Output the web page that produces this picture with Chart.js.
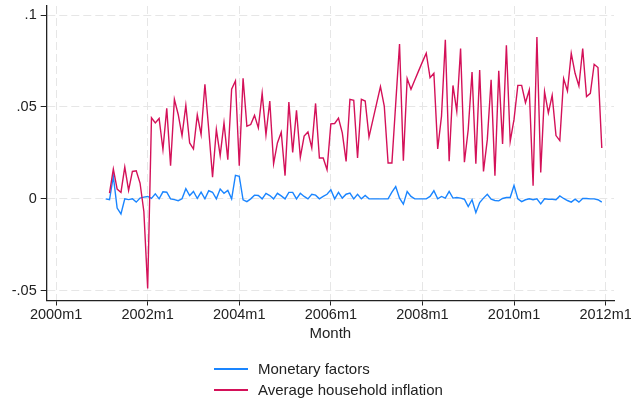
<!DOCTYPE html>
<html>
<head>
<meta charset="utf-8">
<script src="https://cdn.jsdelivr.net/npm/chart.js@4.4.1/dist/chart.umd.min.js"></script>
<style>
    html, body { margin: 0; padding: 0; background: #fff; }
    #wrap { position: relative; width: 631px; height: 398px; }
    #legend { position: absolute; left: 214px; top: 358px; font: 15px "Liberation Sans", Arial, sans-serif; color: #222; }
    .item { display: flex; align-items: center; height: 21px; }
    .swatch { display: inline-block; width: 34px; height: 2px; margin-right: 10px; }
</style>
</head>
<body>
<div id="wrap">
    <canvas id="chart" width="631" height="398"></canvas>
    <div id="legend"></div>
</div>
<script>
// months counted from 2000m1 = 0; series start at 2001m2
const startMonth = 13;

const xTickValues = [0, 24, 48, 72, 96, 120, 144];
const xTickLabels = ["2000m1", "2002m1", "2004m1", "2006m1", "2008m1", "2010m1", "2012m1"];
const yTickValues = [0.1, 0.05, 0, -0.05];
const yTickLabels = [".1", ".05", "0", "-.05"];

const seriesNames = ["Monetary factors", "Average household inflation"];
const seriesColors = ["#1a85ff", "#d41159"];

const monetaryFactors = [
    0, -0.0005, 0.0122, -0.0050, -0.0082, 0, -0.0004, 0, -0.0018, 0.0004, 0.0009,
    0.0013, 0.0002, 0.0027, 0, 0.0038, 0.0036, 0, -0.0004, -0.0010, 0, 0.0055, 0.0018,
    0.0040, 0.0002, 0.0036, 0, 0.0044, 0.0036, 0, 0.0053, 0.0030, 0.0046, 0, 0.0128,
    0.0122, -0.0005, -0.0015, 0, 0.0020, 0.0018, 0, 0.0030, 0.0018, 0, 0.0030, 0.0016,
    0, 0.0035, 0.0035, 0, 0.0030, 0.0013, 0, 0.0025, 0.0020, 0, 0.0013, 0.0025,
    0.0049, 0, 0.0035, 0.0004, 0.0025, 0.0031, 0, 0.0025, 0, 0.0018, 0, 0,
    0, 0, 0, 0, 0.0036, 0.0067, 0.0004, -0.0029, 0.0040, 0.0013,
    0, 0, 0, 0, 0.0013, 0.0044, 0, 0.0013, 0.0004, 0.0040, 0.0004,
    0.0007, 0.0004, -0.0002, -0.0042, -0.0005, -0.0075, -0.0020, 0.0004, 0.0025, -0.0002, -0.0009,
    -0.0011, 0.0002, 0.0007, 0.0007, 0.0073, 0, -0.0015, -0.0005, 0, -0.0005, 0,
    -0.0027, 0, -0.0002, -0.0002, -0.0005, 0.0016, 0.0002, -0.0009, -0.0018, -0.0002, -0.0018,
    0.0002, 0.0002, 0, 0, -0.0005, -0.0018
];

const householdInflation = [
    null, 0.0031, 0.0162, 0.0053, 0.0035, 0.0173, 0.0046, 0.0149, 0.0153, 0.0086, -0.0069,
    -0.0488, 0.0441, 0.0413, 0.0437, 0.0268, 0.0492, 0.0180, 0.0541, 0.0459, 0.0344, 0.0508,
    0.0304, 0.0271, 0.0457, 0.0350, 0.0623, 0.0377, 0.0118, 0.0377, 0.0235, 0.0413, 0.0213,
    0.0596, 0.0641, 0.0180, 0.0656, 0.0395, 0.0404, 0.0454, 0.0386, 0.0574, 0.0348, 0.0532,
    0.0191, 0.0304, 0.0362, 0.0126, 0.0526, 0.0253, 0.0481, 0.0226, 0.0341, 0.0364, 0.0277,
    0.0519, 0.0222, 0.0222, 0.0158, 0.0408, 0.0410, 0.0439, 0.0359, 0.0204, 0.0541, 0.0536,
    0.0222, 0.0541, 0.0532, 0.0337, 0.0428, 0.0519, 0.0610, 0.0505, 0.0195, 0.0195, 0.0519,
    0.0842, 0.0208, 0.0654, 0.0596, 0.0647, 0.0696, 0.0745, 0.0792, 0.0659, 0.0683, 0.0271,
    0.0450, 0.0865, 0.0204, 0.0617, 0.0477, 0.0818, 0.0199, 0.0377, 0.0690, 0.0191, 0.0701,
    0.0149, 0.0322, 0.0647, 0.0126, 0.0696, 0.0299, 0.0836, 0.0313, 0.0432, 0.0617, 0.0617,
    0.0523, 0.0592, 0.0071, 0.0880, 0.0144, 0.0583, 0.0468, 0.0563, 0.0344, 0.0317, 0.0654,
    0.0587, 0.0791, 0.0683, 0.0614, 0.0818, 0.0556, 0.0574, 0.0732, 0.0714, 0.0277
];

const months = monetaryFactors.map((_, i) => startMonth + i);
const toPoints = vals => vals.map((v, i) => ({ x: months[i], y: v }));

const tickFont = { family: "'Liberation Sans', Arial, sans-serif", size: 14.5 };
const titleFont = { family: "'Liberation Sans', Arial, sans-serif", size: 15 };
const textColor = "#222";
const gridColor = "#e6e6e6";

new Chart(document.getElementById("chart"), {
    type: "line",
    data: {
        datasets: [
            {
                label: seriesNames[0],
                data: toPoints(monetaryFactors),
                borderColor: seriesColors[0],
                order: 1
            },
            {
                label: seriesNames[1],
                data: toPoints(householdInflation),
                borderColor: seriesColors[1],
                order: 0
            }
        ]
    },
    options: {
        responsive: false,
        animation: false,
        devicePixelRatio: 1,
        layout: { padding: { top: 6, right: 17, bottom: 55, left: 0 } },
        elements: {
            point: { radius: 0 },
            line: { borderWidth: 1.4, tension: 0, fill: false }
        },
        plugins: {
            legend: { display: false },
            tooltip: { enabled: false }
        },
        scales: {
            x: {
                type: "linear",
                min: -2.46,
                max: 146.2,
                afterBuildTicks: scale => { scale.ticks = xTickValues.map(v => ({ value: v })); },
                afterFit: scale => {
                    scale.paddingLeft = 0;
                    scale.paddingRight = 0;
                    scale.height = 42.5;
                },
                ticks: {
                    callback: v => xTickLabels[xTickValues.indexOf(v)],
                    autoSkip: false,
                    maxRotation: 0,
                    padding: 1,
                    color: textColor,
                    font: tickFont
                },
                grid: { color: gridColor, tickColor: "#222", tickLength: 5, lineWidth: 1 },
                border: { display: true, color: "#222", width: 1.3, dash: [8, 4] },
                title: { display: true, text: "Month", color: textColor, font: titleFont, padding: 0 }
            },
            y: {
                min: -0.0553,
                max: 0.1049,
                afterBuildTicks: scale => { scale.ticks = yTickValues.map(v => ({ value: v })); },
                afterFit: scale => {
                    scale.width = 46.7;
                    scale.paddingTop = 0;
                    scale.paddingBottom = 0;
                },
                ticks: {
                    callback: v => yTickLabels[yTickValues.indexOf(v)],
                    autoSkip: false,
                    padding: 4,
                    color: textColor,
                    font: tickFont
                },
                grid: { color: gridColor, tickColor: "#222", tickLength: 6, lineWidth: 1 },
                border: { display: true, color: "#222", width: 1.3, dash: [8, 4] }
            }
        }
    }
});

// legend stacked under the axis title, as in the original
const legend = document.getElementById("legend");
seriesNames.forEach((name, i) => {
    const row = document.createElement("div");
    row.className = "item";
    const sw = document.createElement("span");
    sw.className = "swatch";
    sw.style.backgroundColor = seriesColors[i];
    const label = document.createElement("span");
    label.textContent = name;
    row.appendChild(sw);
    row.appendChild(label);
    legend.appendChild(row);
});
</script>
</body>
</html>
